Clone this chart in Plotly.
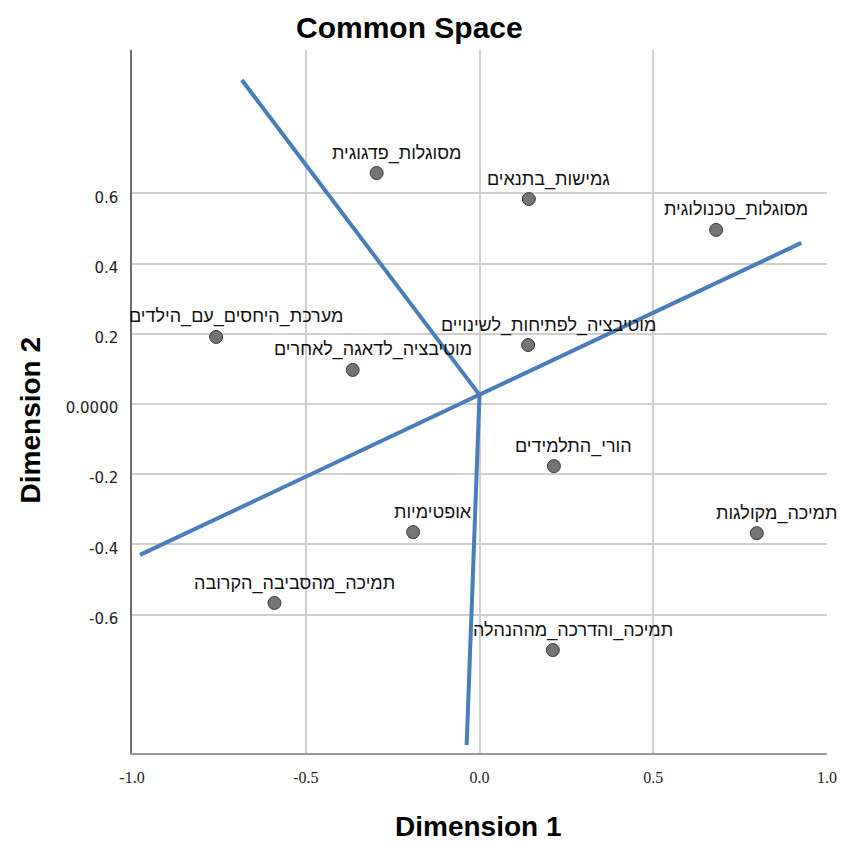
import plotly.graph_objects as go

# ---- data ----
labels = [
    "מסוגלות_פדגוגית",
    "גמישות_בתנאים",
    "מסוגלות_טכנולוגית",
    "מערכת_היחסים_עם_הילדים",
    "מוטיבציה_לדאגה_לאחרים",
    "מוטיבציה_לפתיחות_לשינויים",
    "הורי_התלמידים",
    "אופטימיות",
    "תמיכה_מקולגות",
    "תמיכה_מהסביבה_הקרובה",
    "תמיכה_והדרכה_מההנהלה",
]
dim1 = [-0.296, 0.142, 0.681, -0.758, -0.365, 0.140, 0.214, -0.191, 0.798, -0.590, 0.211]
dim2 = [0.658, 0.584, 0.496, 0.191, 0.097, 0.168, -0.177, -0.365, -0.368, -0.567, -0.701]

# dividing lines drawn over the map (endpoints in data units)
line_a_x = [-0.684, 0.0]
line_a_y = [0.923, 0.026]
line_b_x = [-0.977, 0.926]
line_b_y = [-0.430, 0.459]
line_c_x = [0.0, -0.037]
line_c_y = [0.026, -0.972]

x_ticks = [-1.0, -0.5, 0.0, 0.5, 1.0]
x_ticktext = ["-1.0", "-0.5", "0.0", "0.5", "1.0"]
y_ticks = [-0.6, -0.4, -0.2, 0.0, 0.2, 0.4, 0.6]
y_ticktext = ["-0.6", "-0.4", "-0.2", "0.0000", "0.2", "0.4", "0.6"]

fig = go.Figure()

fig.add_trace(go.Scatter(
    x=dim1, y=dim2, mode="markers",
    marker=dict(size=13, color="#747474", line=dict(color="#3a3a3a", width=1)),
    hovertext=labels, hoverinfo="text", showlegend=False,
))

LINE_COLOR = "#4a7ebb"
for lx, ly in [(line_a_x, line_a_y), (line_b_x, line_b_y), (line_c_x, line_c_y)]:
    fig.add_trace(go.Scatter(
        x=lx, y=ly, mode="lines",
        line=dict(color=LINE_COLOR, width=4),
        hoverinfo="skip", showlegend=False,
    ))

annotations = []
for lab, xv, yv in zip(labels, dim1, dim2):
    annotations.append(dict(
        x=xv, y=yv, xref="x", yref="y", text=lab, showarrow=False,
        xshift=20, yshift=20, xanchor="center", yanchor="middle",
        font=dict(family="Liberation Sans, DejaVu Sans, sans-serif", size=18, color="#111111"),
    ))

annotations += [
    dict(text="<b>Common Space</b>", xref="paper", yref="paper", x=0.3986, y=1.0327,
         xanchor="center", yanchor="middle", showarrow=False,
         font=dict(family="Liberation Sans, Arial, sans-serif", size=30, color="#000000")),
    dict(text="<b>Dimension 1</b>", xref="paper", yref="paper", x=0.4979, y=-0.1294,
         xanchor="center", yanchor="bottom", showarrow=False,
         font=dict(family="Liberation Sans, Arial, sans-serif", size=28, color="#000000")),
    dict(text="<b>Dimension 2</b>", xref="paper", yref="paper", x=-0.1447, y=0.4737,
         xanchor="center", yanchor="middle", showarrow=False, textangle=-90,
         font=dict(family="Liberation Sans, Arial, sans-serif", size=28, color="#000000")),
]

fig.update_layout(
    width=847, height=845,
    margin=dict(l=132, r=10, t=50, b=92),
    paper_bgcolor="white", plot_bgcolor="white",
    annotations=annotations,
    showlegend=False,
)

fig.update_xaxes(
    range=[-1.0, 1.0], tickvals=x_ticks, ticktext=x_ticktext,
    showgrid=True, gridcolor="#cfcfcf", gridwidth=1.5,
    zeroline=False, showline=True, linecolor="#9a9a9a", linewidth=1.5,
    ticks="", ticklabelstandoff=9,
    tickfont=dict(family="Liberation Serif, serif", size=16, color="#222222"),
)
fig.update_yaxes(
    range=[-0.9943, 1.0085], tickvals=y_ticks, ticktext=y_ticktext,
    showgrid=True, gridcolor="#cfcfcf", gridwidth=1.5,
    zeroline=False, showline=True, linecolor="#6f6f6f", linewidth=1.5,
    ticks="", ticklabelstandoff=9, ticklabelshift=4,
    tickfont=dict(family="DejaVu Sans, sans-serif", size=15, color="#222222"),
)

fig.write_html(
    "out.html",
    config={"responsive": False, "displayModeBar": False},
    post_script="document.body.style.margin='0';document.body.style.overflow='hidden';",
)
